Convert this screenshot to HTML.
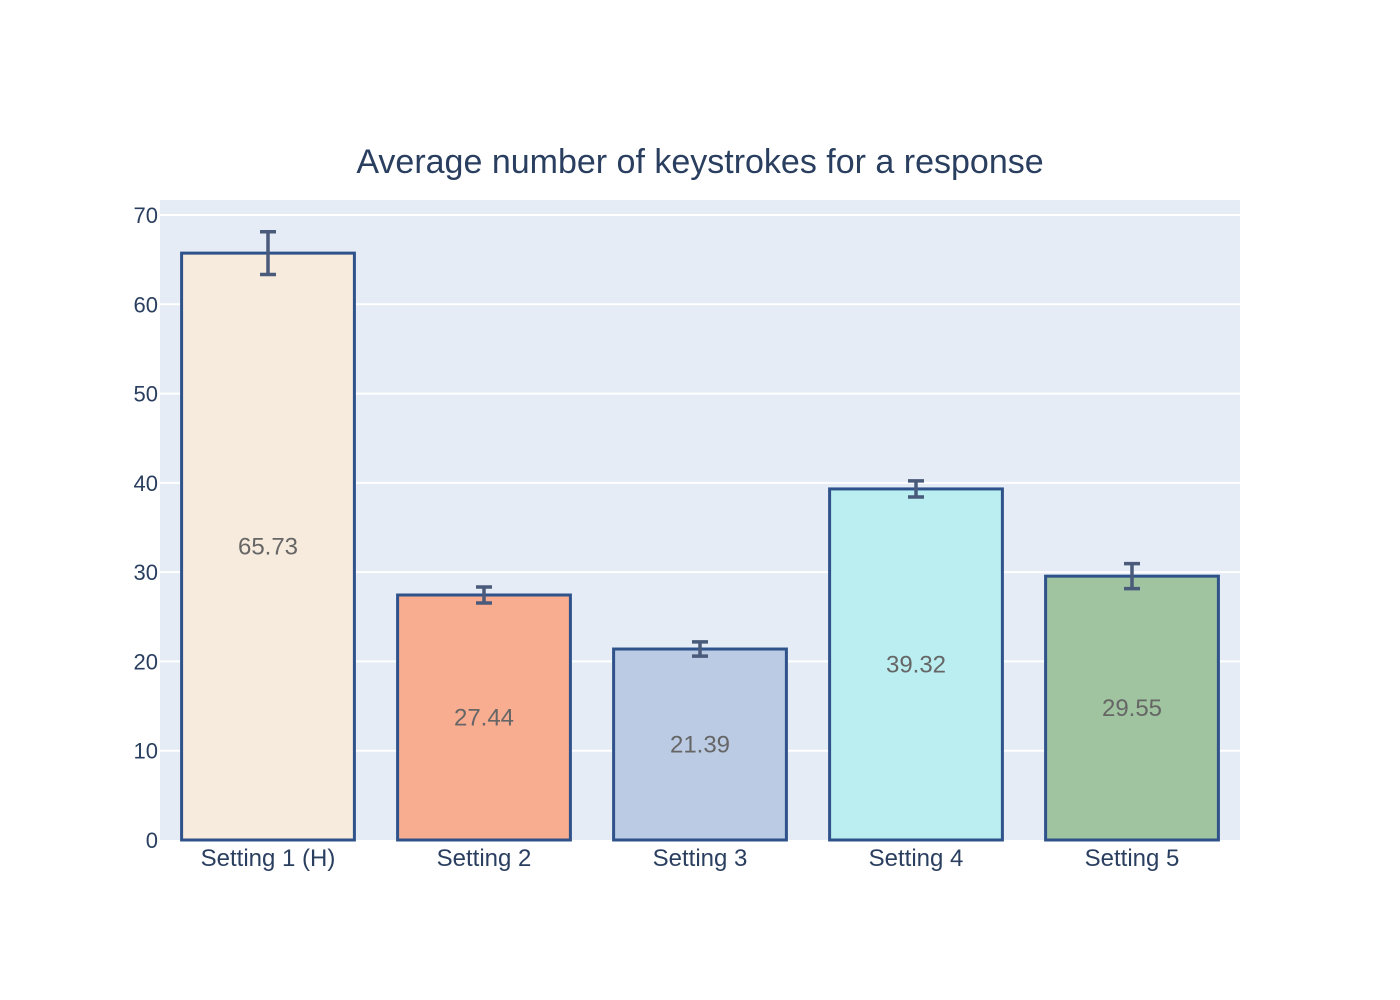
<!DOCTYPE html>
<html><head><meta charset="utf-8"><style>
body{margin:0;background:#fff}
svg{display:block;font-family:"Liberation Sans",Arial,sans-serif}
</style></head><body>
<svg id="chart" width="1400" height="1000">
<rect width="1400" height="1000" fill="#fff"/>
<text x="700" y="173" text-anchor="middle" font-size="34" fill="#2a3f5f">Average number of keystrokes for a response</text>
<rect x="160" y="200" width="1080" height="640" fill="#e5ecf6"/>
<g id="grid"></g><g id="bars"></g><g id="axes"></g>
</svg>
<script>
const categories=["Setting 1 (H)","Setting 2","Setting 3","Setting 4","Setting 5"];
const values=[65.73,27.44,21.39,39.32,29.55];
const errors=[2.4,0.9,0.8,0.9,1.4];
const labels=["65.73","27.44","21.39","39.32","29.55"];
const yTicks=[0,10,20,30,40,50,60,70];
const colors=["#f7ebdd","#f9ad90","#bacbe3","#baeef0","#a0c4a0"];
const NS="http://www.w3.org/2000/svg";
const x0=160,x1=1240,yb=840,yMax=71.68;
const y=v=>yb-v*(640/yMax);
const band=(x1-x0)/categories.length;
const xc=i=>x0+band*(i+0.5);
function mk(t,a,p){const e=document.createElementNS(NS,t);for(const k in a)e.setAttribute(k,a[k]);p.appendChild(e);return e;}
const G=document.getElementById('grid'),B=document.getElementById('bars'),A=document.getElementById('axes');
yTicks.forEach(t=>{
 if(t>0){const l=mk('line',{x1:x0,x2:x1,y1:y(t),y2:y(t),stroke:'#fff','stroke-width':2},G);
 
 }
 const tx=mk('text',{x:x0-2,y:y(t)+8,'text-anchor':'end','font-size':22,fill:'#2a3f5f'},A);tx.textContent=t;
 
 
});
const bw=band*0.8;
values.forEach((v,i)=>{
 const r=mk('rect',{x:xc(i)-bw/2,y:y(v),width:bw,height:yb-y(v),fill:colors[i],stroke:'#2f528a','stroke-width':3},B);
 
 
 const t=mk('text',{x:xc(i),y:(y(v)+yb)/2+8,'text-anchor':'middle','font-size':24,fill:'#666'},B);t.textContent=labels[i];
 
 
 const e=errors[i],c=xc(i);
 const g=mk('path',{d:`M${c},${y(v+e)}V${y(v-e)}M${c-8},${y(v+e)}H${c+8}M${c-8},${y(v-e)}H${c+8}`,stroke:'#4a5a7a','stroke-width':3.5,fill:'none'},B);
 
 
 const xt=mk('text',{x:c,y:866,'text-anchor':'middle','font-size':24,fill:'#2a3f5f'},A);xt.textContent=categories[i];
 
 
});
</script>
</body></html>
